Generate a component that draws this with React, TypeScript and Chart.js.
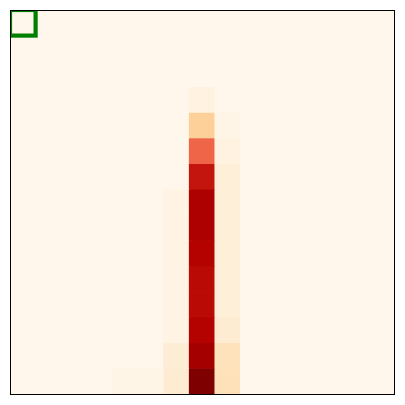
import React, { useEffect, useRef } from "react";
import { Chart, registerables } from "chart.js";

Chart.register(...registerables);

const colLabels: string[] = Array.from({ length: 15 }, (_, i) => String(i));
const rowCount = 15;

// heat values (0..1), row by row (top row first)
const values: number[][] = [
  [0, 0, 0, 0, 0, 0, 0, 0, 0, 0, 0, 0, 0, 0, 0],
  [0, 0, 0, 0, 0, 0, 0, 0, 0, 0, 0, 0, 0, 0, 0],
  [0, 0, 0, 0, 0, 0, 0, 0, 0, 0, 0, 0, 0, 0, 0],
  [0, 0, 0, 0, 0, 0, 0, 0.04, 0, 0, 0, 0, 0, 0, 0],
  [0, 0, 0, 0, 0, 0, 0, 0.27, 0.02, 0, 0, 0, 0, 0, 0],
  [0, 0, 0, 0, 0, 0, 0, 0.625, 0.04, 0, 0, 0, 0, 0, 0],
  [0, 0, 0, 0, 0, 0, 0, 0.82, 0.07, 0, 0, 0, 0, 0, 0],
  [0, 0, 0, 0, 0, 0, 0.03, 0.89, 0.07, 0, 0, 0, 0, 0, 0],
  [0, 0, 0, 0, 0, 0, 0.03, 0.89, 0.07, 0, 0, 0, 0, 0, 0],
  [0, 0, 0, 0, 0, 0, 0.03, 0.87, 0.07, 0, 0, 0, 0, 0, 0],
  [0, 0, 0, 0, 0, 0, 0.03, 0.85, 0.07, 0, 0, 0, 0, 0, 0],
  [0, 0, 0, 0, 0, 0, 0.03, 0.85, 0.07, 0, 0, 0, 0, 0, 0],
  [0, 0, 0, 0, 0, 0, 0.03, 0.87, 0.09, 0, 0, 0, 0, 0, 0],
  [0, 0, 0, 0, 0, 0, 0.08, 0.91, 0.16, 0, 0, 0, 0, 0, 0],
  [0, 0, 0, 0, 0.02, 0.02, 0.09, 1.0, 0.17, 0, 0, 0, 0, 0, 0],
];

const highlightCell = { col: 0, row: 0 };

const orrdStops = [
  "#fff7ec", "#fee8c8", "#fdd49e", "#fdbb84", "#fc8d59",
  "#ef6548", "#d7301f", "#b30000", "#7f0000",
];

function hexToRgb(h: string): number[] {
  return [1, 3, 5].map((i) => parseInt(h.slice(i, i + 2), 16));
}

function orrd(v: number): string {
  const t = Math.max(0, Math.min(1, v)) * (orrdStops.length - 1);
  const i = Math.min(Math.floor(t), orrdStops.length - 2);
  const f = t - i;
  const a = hexToRgb(orrdStops[i]);
  const b = hexToRgb(orrdStops[i + 1]);
  const c = a.map((x, k) => Math.round(x + (b[k] - x) * f));
  return `rgb(${c[0]},${c[1]},${c[2]})`;
}

const framePlugin = {
  id: "frameAndHighlight",
  afterDatasetsDraw(chart: any) {
    const { ctx, chartArea, scales } = chart;
    const xs = scales.x;
    const ys = scales.y;
    const half = xs.width / colLabels.length / 2;
    const cx = xs.getPixelForValue(highlightCell.col);
    const x0 = cx - half;
    const x1 = cx + half;
    const y0 = ys.getPixelForValue(highlightCell.row);
    const y1 = ys.getPixelForValue(highlightCell.row + 1);
    ctx.save();
    ctx.beginPath();
    ctx.rect(chartArea.left, chartArea.top, chartArea.right - chartArea.left, chartArea.bottom - chartArea.top);
    ctx.clip();
    ctx.strokeStyle = "#008000";
    ctx.lineWidth = 4.2;
    ctx.strokeRect(x0, Math.min(y0, y1), x1 - x0, Math.abs(y1 - y0));
    ctx.restore();
    ctx.save();
    ctx.strokeStyle = "#000";
    ctx.lineWidth = 1;
    ctx.strokeRect(chartArea.left + 0.5, chartArea.top + 0.5, chartArea.right - chartArea.left, chartArea.bottom - chartArea.top);
    ctx.restore();
  },
};

export default function App() {
  const ref = useRef<HTMLCanvasElement | null>(null);
  useEffect(() => {
    if (!ref.current) return;
    const datasets = values.map((row, r) => ({
      label: `row ${r}`,
      data: row.map(() => [r, r + 1]),
      backgroundColor: row.map((v) => orrd(v)),
      borderWidth: 0,
      barPercentage: 1,
      categoryPercentage: 1,
      grouped: false,
    }));
    const chart = new Chart(ref.current, {
      type: "bar",
      data: { labels: colLabels, datasets: datasets as any },
      options: {
        animation: false,
        responsive: false,
        devicePixelRatio: 1,
        layout: { padding: { left: 10, top: 10, right: 11, bottom: 11 } },
        plugins: { legend: { display: false }, tooltip: { enabled: false } },
        scales: {
          x: { display: false, offset: true },
          y: { display: false, reverse: true, min: 0, max: rowCount },
        },
      },
      plugins: [framePlugin],
    });
    return () => chart.destroy();
  }, []);
  return (
    <div style={{ position: "fixed", left: 0, top: 0, width: 405, height: 405, background: "#fff" }}>
      <canvas ref={ref} width={405} height={405} style={{ width: 405, height: 405 }} />
    </div>
  );
}
